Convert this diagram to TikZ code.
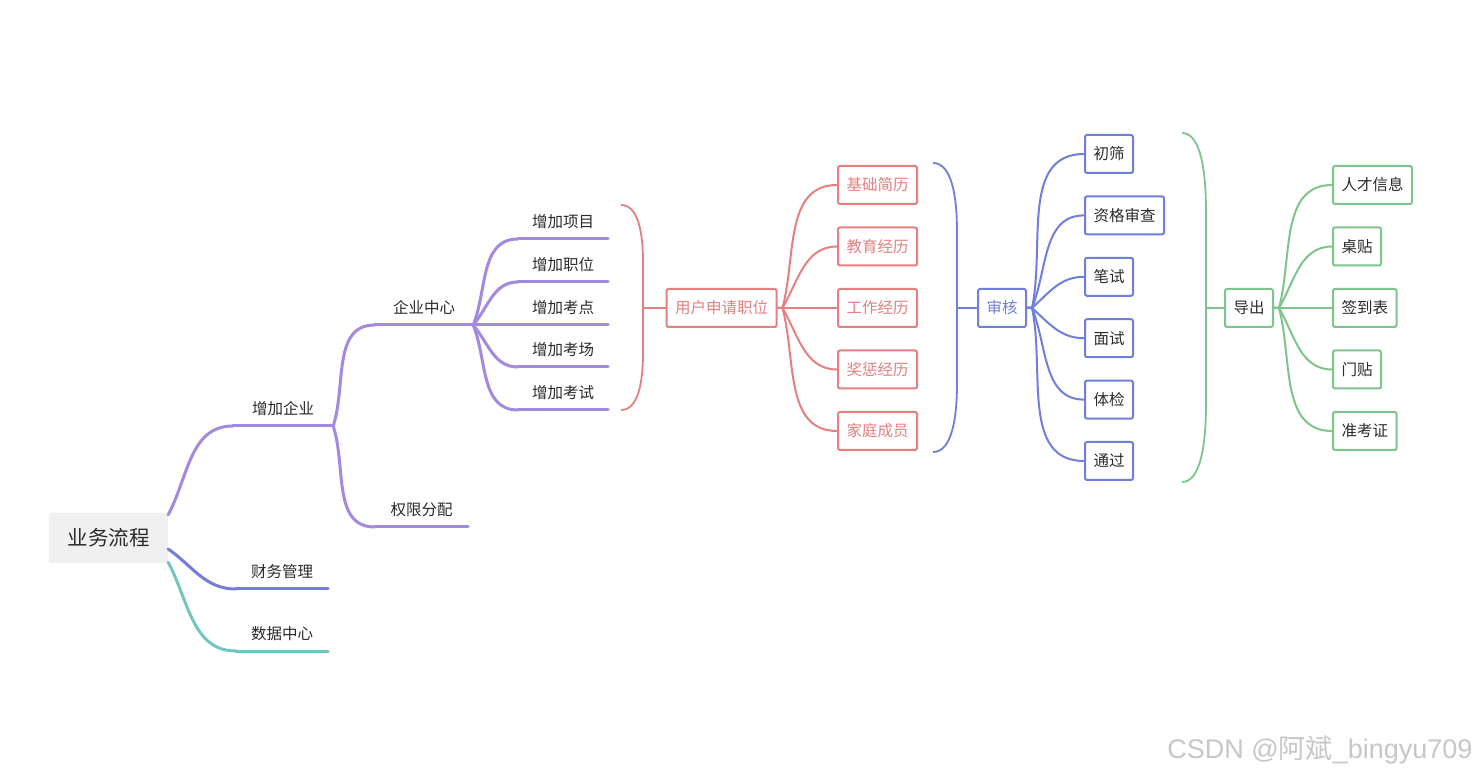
\documentclass[tikz,border=0pt]{standalone}
\usepackage{fontspec}
\newfontfamily\cjk{Noto Sans CJK SC}
\newfontfamily\wmfont{Liberation Sans}
\usepackage{xcolor}
\usetikzlibrary{positioning}
\definecolor{TopicPurple}{HTML}{A389DF}
\definecolor{TopicBlue}{HTML}{6F7FDB}
\definecolor{TopicTeal}{HTML}{72C6C0}
\definecolor{TopicRed}{HTML}{E58080}
\definecolor{TopicGreen}{HTML}{7DC58C}
\definecolor{RootGray}{HTML}{EFF0EF}
\definecolor{TextDark}{HTML}{2B2B2B}

\begin{document}
\begin{tikzpicture}[x=1pt, y=1pt,
        root/.style={rectangle, fill=RootGray, rounded corners=3pt, minimum width=119pt, minimum height=50pt, font=\cjk\fontsize{20.5}{24}\selectfont, text=TextDark},
        topic/.style={anchor=south, inner xsep=0pt, inner ysep=8pt, text depth=3pt, font=\cjk\fontsize{15.5}{18}\selectfont, text=TextDark},
        uline/.style={line width=3pt, line cap=round},
        box/.style={rectangle, draw, fill=white, line width=2pt, rounded corners=2pt, minimum height=38pt, inner xsep=8.5pt, inner ysep=0pt, font=\cjk\fontsize{15.5}{18}\selectfont, text=TextDark},
        link/.style={line width=2pt},
        brace/.style={line width=1.8pt}
    ]
        \fill[white] (0,0) rectangle (1478,777);
        \useasboundingbox (0,0) rectangle (1478,777);

        % root and first level
        \node [root] (root) at (108.5,239) {业务流程};
        \node [topic, minimum width=100pt] (qy) at (283,351) {增加企业};
        \node [topic, minimum width=92pt] (cw) at (282,188) {财务管理};
        \node [topic, minimum width=92pt] (sj) at (282,126) {数据中心};

        \draw [uline, TopicPurple] (qy.south west) -- (qy.south east);
        \draw [uline, TopicBlue] (cw.south west) -- (cw.south east);
        \draw [uline, TopicTeal] (sj.south west) -- (sj.south east);

        \draw [uline, TopicPurple] ([yshift=-2pt]root.north east) to[out=62, in=180] (qy.south west);
        \draw [uline, TopicBlue] ([yshift=-11pt]root.east) to[out=-35, in=180] (cw.south west);
        \draw [uline, TopicTeal] ([yshift=1pt]root.south east) to[out=-62, in=180] (sj.south west);

        % second level
        \node [topic, minimum width=98pt] (zx) at (424,452) {企业中心};
        \node [topic, minimum width=93pt] (qx) at (421.5,250) {权限分配};
        \draw [uline, TopicPurple] (zx.south west) -- (zx.south east);
        \draw [uline, TopicPurple] (qx.south west) -- (qx.south east);
        \draw [uline, TopicPurple] (qy.south east) to[out=72, in=180] (zx.south west);
        \draw [uline, TopicPurple] (qy.south east) to[out=-72, in=180] (qx.south west);

        % third level
        \node [topic, minimum width=90pt] (xm) at (563,538) {增加项目};
        \node [topic, minimum width=90pt] (zw) at (563,495) {增加职位};
        \node [topic, minimum width=90pt] (kd) at (563,452) {增加考点};
        \node [topic, minimum width=90pt] (kc) at (563,410) {增加考场};
        \node [topic, minimum width=90pt] (ks) at (563,367) {增加考试};
        \foreach \n in {xm,zw,kd,kc,ks}
            \draw [uline, TopicPurple] (\n.south west) -- (\n.south east);
        \draw [uline, TopicPurple] (zx.south east) to[out=68, in=180] (xm.south west);
        \draw [uline, TopicPurple] (zx.south east) to[out=50, in=180] (zw.south west);
        \draw [uline, TopicPurple] (zx.south east) -- (kd.south west);
        \draw [uline, TopicPurple] (zx.south east) to[out=-50, in=180] (kc.south west);
        \draw [uline, TopicPurple] (zx.south east) to[out=-68, in=180] (ks.south west);

        % apply for a post
        \draw [brace, TopicRed] (621,572) .. controls (638,572) and (643,545) .. (643,515) -- (643,424) .. controls (643,394) and (638,367) .. (621,367);
        \coordinate (rb) at (643,469);
        \node [box, draw=TopicRed, text=TopicRed] (uy) at (721.5,469) {用户申请职位};
        \draw [link, TopicRed] (rb) -- (uy.west);

        \node [box, draw=TopicRed, text=TopicRed, anchor=west] (r_base) at (837,592) {基础简历};
        \node [box, draw=TopicRed, text=TopicRed, below=21.5pt of r_base.south west, anchor=north west] (r_edu) {教育经历};
        \node [box, draw=TopicRed, text=TopicRed, below=21.5pt of r_edu.south west, anchor=north west] (r_work) {工作经历};
        \node [box, draw=TopicRed, text=TopicRed, below=21.5pt of r_work.south west, anchor=north west] (r_award) {奖惩经历};
        \node [box, draw=TopicRed, text=TopicRed, below=21.5pt of r_award.south west, anchor=north west] (r_family) {家庭成员};

        \draw [link, TopicRed] (uy.east) -- ++(5,0) to[out=75, in=180] (r_base.west);
        \draw [link, TopicRed] (uy.east) -- ++(5,0) to[out=60, in=180] (r_edu.west);
        \draw [link, TopicRed] (uy.east) -- (r_work.west);
        \draw [link, TopicRed] (uy.east) -- ++(5,0) to[out=-60, in=180] (r_award.west);
        \draw [link, TopicRed] (uy.east) -- ++(5,0) to[out=-75, in=180] (r_family.west);

        % review
        \draw [brace, TopicBlue] (933,614) .. controls (952,614) and (957,580) .. (957,545) -- (957,394) .. controls (957,359) and (952,325) .. (933,325);
        \coordinate (bb) at (957,469);
        \node [box, draw=TopicBlue, text=TopicBlue, anchor=west] (sh) at (977,469) {审核};
        \draw [link, TopicBlue] (bb) -- (sh.west);

        \node [box, draw=TopicBlue, anchor=west] (b_first) at (1084,623) {初筛};
        \node [box, draw=TopicBlue, below=21.4pt of b_first.south west, anchor=north west] (b_qual) {资格审查};
        \node [box, draw=TopicBlue, below=21.4pt of b_qual.south west, anchor=north west] (b_written) {笔试};
        \node [box, draw=TopicBlue, below=21.4pt of b_written.south west, anchor=north west] (b_talk) {面试};
        \node [box, draw=TopicBlue, below=21.4pt of b_talk.south west, anchor=north west] (b_health) {体检};
        \node [box, draw=TopicBlue, below=21.4pt of b_health.south west, anchor=north west] (b_pass) {通过};

        \draw [link, TopicBlue] (sh.east) -- ++(5,0) to[out=78, in=180] (b_first.west);
        \draw [link, TopicBlue] (sh.east) -- ++(5,0) to[out=68, in=180] (b_qual.west);
        \draw [link, TopicBlue] (sh.east) -- ++(5,0) to[out=42, in=180] (b_written.west);
        \draw [link, TopicBlue] (sh.east) -- ++(5,0) to[out=-42, in=180] (b_talk.west);
        \draw [link, TopicBlue] (sh.east) -- ++(5,0) to[out=-68, in=180] (b_health.west);
        \draw [link, TopicBlue] (sh.east) -- ++(5,0) to[out=-78, in=180] (b_pass.west);

        % export
        \draw [brace, TopicGreen] (1182,644) .. controls (1201,644) and (1206,605) .. (1206,565) -- (1206,374) .. controls (1206,334) and (1201,295) .. (1182,295);
        \coordinate (gb) at (1206,469);
        \node [box, draw=TopicGreen, anchor=west] (dc) at (1224,469) {导出};
        \draw [link, TopicGreen] (gb) -- (dc.west);

        \node [box, draw=TopicGreen, anchor=west] (g_talent) at (1332,592) {人才信息};
        \node [box, draw=TopicGreen, below=21.5pt of g_talent.south west, anchor=north west] (g_desk) {桌贴};
        \node [box, draw=TopicGreen, below=21.5pt of g_desk.south west, anchor=north west] (g_sign) {签到表};
        \node [box, draw=TopicGreen, below=21.5pt of g_sign.south west, anchor=north west] (g_door) {门贴};
        \node [box, draw=TopicGreen, below=21.5pt of g_door.south west, anchor=north west] (g_ticket) {准考证};

        \draw [link, TopicGreen] (dc.east) -- ++(5,0) to[out=75, in=180] (g_talent.west);
        \draw [link, TopicGreen] (dc.east) -- ++(5,0) to[out=60, in=180] (g_desk.west);
        \draw [link, TopicGreen] (dc.east) -- (g_sign.west);
        \draw [link, TopicGreen] (dc.east) -- ++(5,0) to[out=-60, in=180] (g_door.west);
        \draw [link, TopicGreen] (dc.east) -- ++(5,0) to[out=-75, in=180] (g_ticket.west);

        % watermark
        \node [anchor=east, font=\wmfont\fontsize{27}{32}\selectfont, text=black!22] (wm) at (1476,27) {CSDN @{\cjk 阿斌}\_bingyu709};
    \end{tikzpicture}
\end{document}
